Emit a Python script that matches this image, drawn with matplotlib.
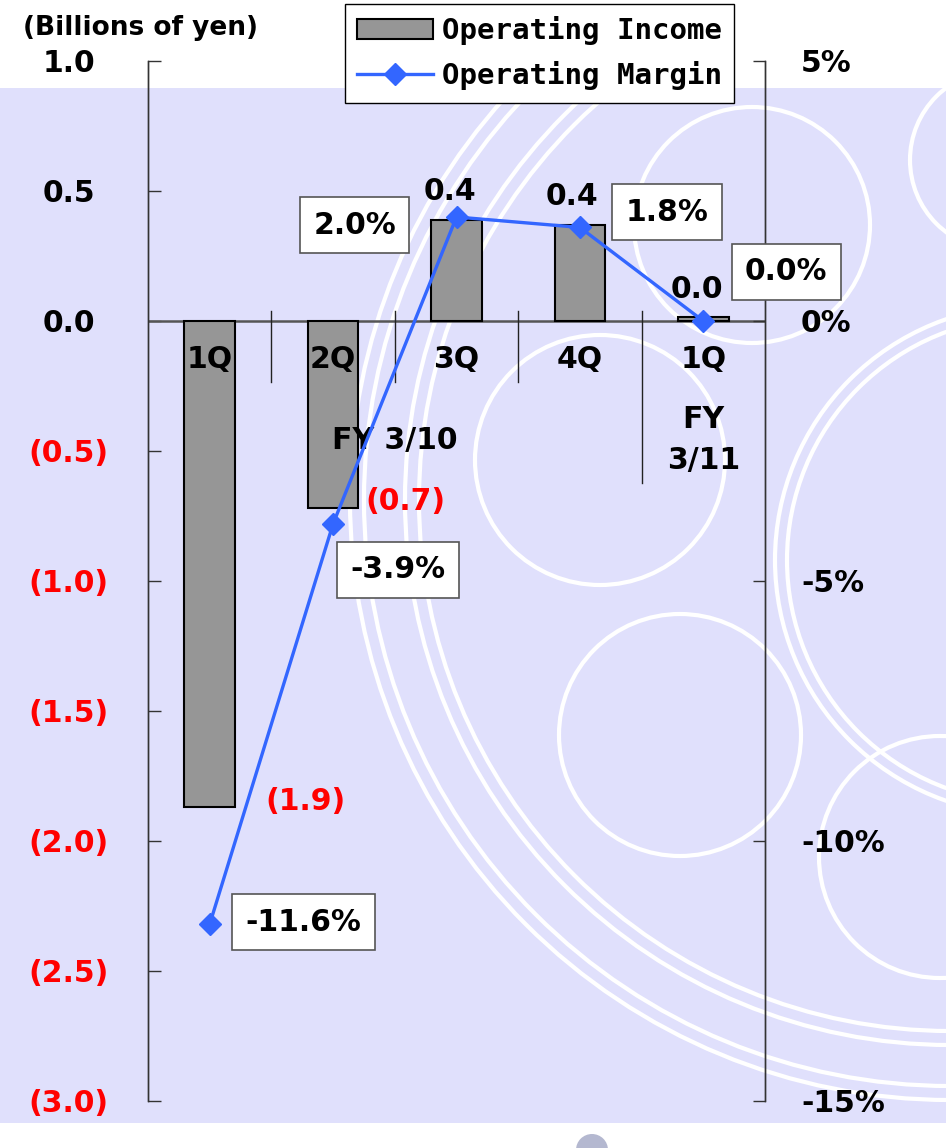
import matplotlib
matplotlib.use('Agg')
import matplotlib.pyplot as plt
from matplotlib.patches import Rectangle, Circle, Patch
from matplotlib.lines import Line2D

# ---------------- data ----------------
quarters = ['1Q', '2Q', '3Q', '4Q', '1Q']
income = [-1.87, -0.72, 0.39, 0.37, 0.015]
income_labels = ['(1.9)', '(0.7)', '0.4', '0.4', '0.0']
margin = [-11.6, -3.9, 2.0, 1.8, 0.0]
margin_labels = ['-11.6%', '-3.9%', '2.0%', '1.8%', '0.0%']
left_ticks = [1.0, 0.5, 0.0, -0.5, -1.0, -1.5, -2.0, -2.5, -3.0]
left_ticklabels = ['1.0', '0.5', '0.0', '(0.5)', '(1.0)', '(1.5)', '(2.0)', '(2.5)', '(3.0)']
right_ticks = [5, 0, -5, -10, -15]
right_ticklabels = ['5%', '0%', '-5%', '-10%', '-15%']
fy_groups = ['FY 3/10', 'FY\n3/11']
fy_group_pos = [1.5, 4.0]

# ---------------- style ----------------
W, H = 946, 1148
LAV = '#E0E0FC'
BAR = '#969696'
BLUE = '#3366FF'
RED = '#FF0000'
FS = 21.5
PX = 0.72  # points per pixel at dpi 100

fig = plt.figure(figsize=(W / 100, H / 100), dpi=100)
fig.patch.set_facecolor('white')

# background with decorative rings
bg = fig.add_axes([0, 0, 1, 1], zorder=0)
bg.set_xlim(0, W)
bg.set_ylim(H, 0)
bg.axis('off')
band = Rectangle((0, 88), W, 1035, facecolor=LAV, edgecolor='none')
bg.add_patch(band)
rings = [((950, 500), 600), ((950, 500), 586), ((950, 500), 545), ((950, 500), 531),
         ((600, 460), 125), ((680, 735), 121), ((752, 225), 118), ((1000, 160), 90),
         ((940, 857), 121), ((1030, 560), 255), ((1030, 560), 243)]
for c, r in rings:
    circ = Circle(c, r, facecolor='none', edgecolor='white', lw=3)
    bg.add_patch(circ)
    circ.set_clip_path(band)
bg.add_patch(Circle((592, 1150), 16, facecolor='#B4B8D0', edgecolor='none'))

# main axes
x0, x1, y0, y1 = 148, 765, 61, 1101
ax = fig.add_axes([x0 / W, 1 - y1 / H, (x1 - x0) / W, (y1 - y0) / H], zorder=1)
ax.set_facecolor('none')
ax.set_xlim(-0.5, 4.5)
ax.set_ylim(-3.0, 1.0)
xs = list(range(len(quarters)))

ax.bar(xs, income, width=0.41, color=BAR, edgecolor='black', lw=1.5, zorder=3)
ax.axhline(0, color='#555555', lw=1.8, zorder=2)

for s in ['top', 'bottom']:
    ax.spines[s].set_visible(False)
for s in ['left', 'right']:
    ax.spines[s].set_color('#333333')
    ax.spines[s].set_linewidth(1.0)
ax.set_xticks([])
ax.set_yticks(left_ticks)
ax.set_yticklabels(left_ticklabels)
ax.tick_params(axis='y', direction='in', length=9, width=1, color='#333333',
               pad=57, labelsize=FS)
for lab, v in zip(ax.get_yticklabels(), left_ticks):
    lab.set_fontweight('bold')
    lab.set_horizontalalignment('center')
    lab.set_color(RED if v < 0 else 'black')

# category labels and separators
xt = ax.get_xaxis_transform()
def fy(ypx):
    return (y1 - ypx) / (y1 - y0)
for i, q in enumerate(quarters):
    ax.text(i, fy(360), q, transform=xt, ha='center', va='center',
            fontsize=FS, fontweight='bold', zorder=4)
for g, p in zip(fy_groups, fy_group_pos):
    ax.text(p, fy(440), g, transform=xt, ha='center', va='center',
            fontsize=FS, fontweight='bold', linespacing=1.5, zorder=4)
for b in [0.5, 1.5, 2.5]:
    ax.plot([b, b], [fy(311), fy(382)], transform=xt, color='#222222', lw=1, clip_on=False)
ax.plot([3.5, 3.5], [fy(311), fy(483)], transform=xt, color='#222222', lw=1, clip_on=False)

# bar value labels
inc_off = [(96, 6), (72, 7), (-7, 28), (-8, 28), (-6, 28)]
for i, (v, t, off) in enumerate(zip(income, income_labels, inc_off)):
    ax.annotate(t, xy=(i, v), xytext=(off[0] * PX, off[1] * PX), textcoords='offset points',
                ha='center', va='center', fontsize=FS, fontweight='bold',
                color=RED if v < 0 else 'black', zorder=5)

# secondary axis
ax2 = ax.twinx()
ax2.set_ylim(-15, 5)
ax2.set_yticks(right_ticks)
ax2.set_yticklabels(right_ticklabels)
ax2.tick_params(axis='y', direction='in', length=9, width=1, color='#333333',
                pad=26, labelsize=FS)
for lab in ax2.get_yticklabels():
    lab.set_fontweight('bold')
for s in ['top', 'bottom']:
    ax2.spines[s].set_visible(False)
for s in ['left', 'right']:
    ax2.spines[s].set_color('#333333')
    ax2.spines[s].set_linewidth(1.0)

ax2.plot(xs, margin, color=BLUE, lw=2.4, marker='D', ms=11.5,
         markerfacecolor=BLUE, markeredgecolor=BLUE, zorder=4)

mar_off = [(94, 2), (65, -46), (-102, -8), (87, 15), (83, 49)]
for i, (v, t, off) in enumerate(zip(margin, margin_labels, mar_off)):
    ax2.annotate(t, xy=(i, v), xytext=(off[0] * PX, off[1] * PX), textcoords='offset points',
                 ha='center', va='center', fontsize=FS, fontweight='bold', color='black',
                 bbox=dict(boxstyle='square,pad=0.45', facecolor='white',
                           edgecolor='#555555', lw=1.2), zorder=6)

# unit label
fig.text(23 / W, 1 - 28 / H, '(Billions of yen)', ha='left', va='center',
         fontsize=19, fontweight='bold')

# legend
handles = [Patch(facecolor=BAR, edgecolor='black', lw=1.5),
           Line2D([0], [0], color=BLUE, lw=2.4, marker='D', ms=11.5)]
leg = fig.legend(handles, ['Operating Income', 'Operating Margin'],
                 loc='upper left', bbox_to_anchor=(345 / W, 1 - 4 / H),
                 prop={'family': 'DejaVu Sans Mono', 'weight': 'bold', 'size': 21},
                 frameon=True, fancybox=False, edgecolor='black', framealpha=1,
                 handlelength=2.6, handleheight=0.7, handletextpad=0.3,
                 borderpad=0.42, labelspacing=0.55, borderaxespad=0)
leg.get_frame().set_linewidth(1.0)
leg.set_zorder(10)

fig.savefig('out.png', dpi=100)
